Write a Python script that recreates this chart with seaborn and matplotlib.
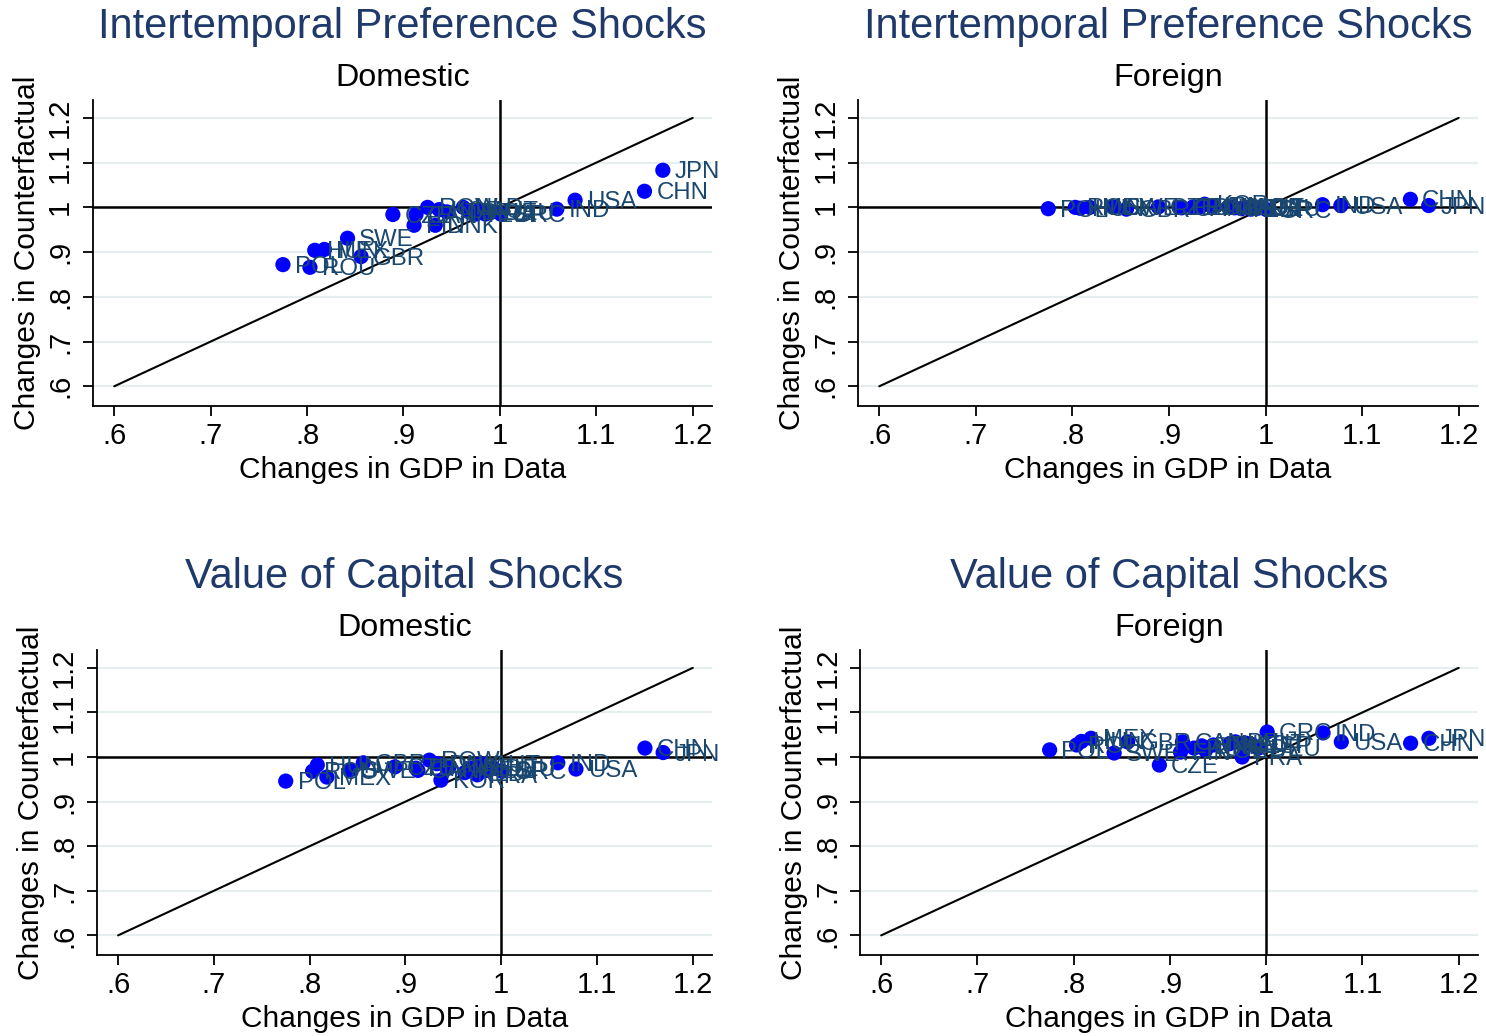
import numpy as np
import pandas as pd
import matplotlib
matplotlib.use("Agg")
import matplotlib.pyplot as plt
import seaborn as sns

# ---------------- data ----------------
countries = ["POL", "ROU", "HUN", "MEX", "SWE", "GBR", "CZE", "CAN", "FIN", "ROW",
             "ITA", "DNK", "KOR", "NLD", "BEL", "FRA", "AUT", "ESP", "DEU", "GRC",
             "IND", "USA", "CHN", "JPN"]
gdp_data = [0.775, 0.803, 0.808, 0.818, 0.842, 0.856, 0.889, 0.913, 0.911, 0.925,
            0.945, 0.933, 0.937, 0.962, 0.968, 0.975, 0.979, 0.985, 0.992, 1.001,
            1.059, 1.078, 1.150, 1.169]
ipref_dom = [0.872, 0.866, 0.904, 0.906, 0.931, 0.890, 0.984, 0.984, 0.960, 1.000,
             0.990, 0.960, 0.995, 1.000, 0.990, 0.985, 0.995, 0.985, 0.990, 0.985,
             0.996, 1.016, 1.036, 1.083]
ipref_for = [0.997, 1.000, 0.998, 1.000, 1.001, 0.996, 1.001, 0.999, 1.000, 1.001,
             1.003, 1.002, 1.007, 1.002, 0.999, 0.997, 1.000, 0.996, 0.998, 0.995,
             1.006, 1.004, 1.018, 1.004]
cap_dom = [0.946, 0.968, 0.982, 0.955, 0.971, 0.987, 0.978, 0.970, 0.975, 0.993,
           0.975, 0.985, 0.948, 0.965, 0.975, 0.960, 0.985, 0.970, 0.975, 0.968,
           0.987, 0.973, 1.020, 1.010]
cap_for = [1.016, 1.027, 1.035, 1.042, 1.009, 1.034, 0.982, 1.034, 1.011, 1.020,
           1.027, 1.025, 1.015, 1.030, 1.034, 1.000, 1.031, 1.028, 1.020, 1.056,
           1.054, 1.034, 1.031, 1.042]

titles = ["Intertemporal Preference Shocks", "Intertemporal Preference Shocks",
          "Value of Capital Shocks", "Value of Capital Shocks"]
subtitles = ["Domestic", "Foreign", "Domestic", "Foreign"]
series = [ipref_dom, ipref_for, cap_dom, cap_for]
tick_vals = [0.6, 0.7, 0.8, 0.9, 1.0, 1.1, 1.2]
tick_labels = [".6", ".7", ".8", ".9", "1", "1.1", "1.2"]
x_label = "Changes in GDP in Data"
y_label = "Changes in Counterfactual"

# ---------------- style ----------------
sns.set_theme(style="white")
plt.rcParams["font.family"] = ["Liberation Sans", "DejaVu Sans"]

TITLE_C = "#1f3a6a"
LABEL_C = "#1a476f"
DOT_C = "#0000ff"

W, H = 1486, 1036
fig = plt.figure(figsize=(W / 100, H / 100), dpi=100)
fig.patch.set_facecolor("white")

boxes = [(93, 100, 712, 406), (858, 100, 1478, 406),
         (97, 650, 712, 955), (860, 650, 1478, 955)]

for i, (l, t, r, b) in enumerate(boxes):
    ax = fig.add_axes([l / W, 1 - b / H, (r - l) / W, (b - t) / H])
    df = pd.DataFrame({"country": countries, "gdp": gdp_data, "cf": series[i]})

    ax.set_xlim(0.578, 1.22)
    ax.set_ylim(0.556, 1.240)

    # light gridlines
    for v in tick_vals:
        ax.axhline(v, color="#e6eef0", lw=1.6, zorder=0)

    ax.plot([0.6, 1.2], [0.6, 1.2], color="black", lw=1.5, zorder=2)
    ax.axhline(1.0, color="black", lw=1.8, zorder=2)
    ax.axvline(1.0, color="black", lw=1.8, zorder=2)

    sns.scatterplot(data=df, x="gdp", y="cf", ax=ax, color=DOT_C, s=120,
                    edgecolor="none", linewidth=0, zorder=4, legend=False)
    for c, xv, yv in zip(df["country"], df["gdp"], df["cf"]):
        ax.annotate(c, (xv, yv), xytext=(8.5, -1.5), textcoords="offset points",
                    ha="left", va="center", fontsize=17.3, color=LABEL_C, zorder=5)

    ax.set_xticks(tick_vals)
    ax.set_xticklabels(tick_labels, fontsize=21)
    ax.set_yticks(tick_vals)
    ax.set_yticklabels(tick_labels, fontsize=21, rotation=90, va="center")
    ax.tick_params(axis="both", direction="out", length=7.5, width=1.3,
                   color="black", labelcolor="black", pad=4, left=True, bottom=True)
    ax.tick_params(axis="y", pad=6)

    ax.set_xlabel(x_label, fontsize=21.5, color="black", labelpad=4)
    ax.set_ylabel(y_label, fontsize=21.5, color="black", labelpad=4)

    for s in ["top", "right"]:
        ax.spines[s].set_visible(False)
    for s in ["left", "bottom"]:
        ax.spines[s].set_color("black")
        ax.spines[s].set_linewidth(1.3)

    ax.text(0.5, 1.203, titles[i], transform=ax.transAxes, ha="center",
            va="baseline", fontsize=30, color=TITLE_C)
    ax.text(0.5, 1.046, subtitles[i], transform=ax.transAxes, ha="center",
            va="baseline", fontsize=23.3, color="black")

fig.savefig("out.png", dpi=100, facecolor="white")
